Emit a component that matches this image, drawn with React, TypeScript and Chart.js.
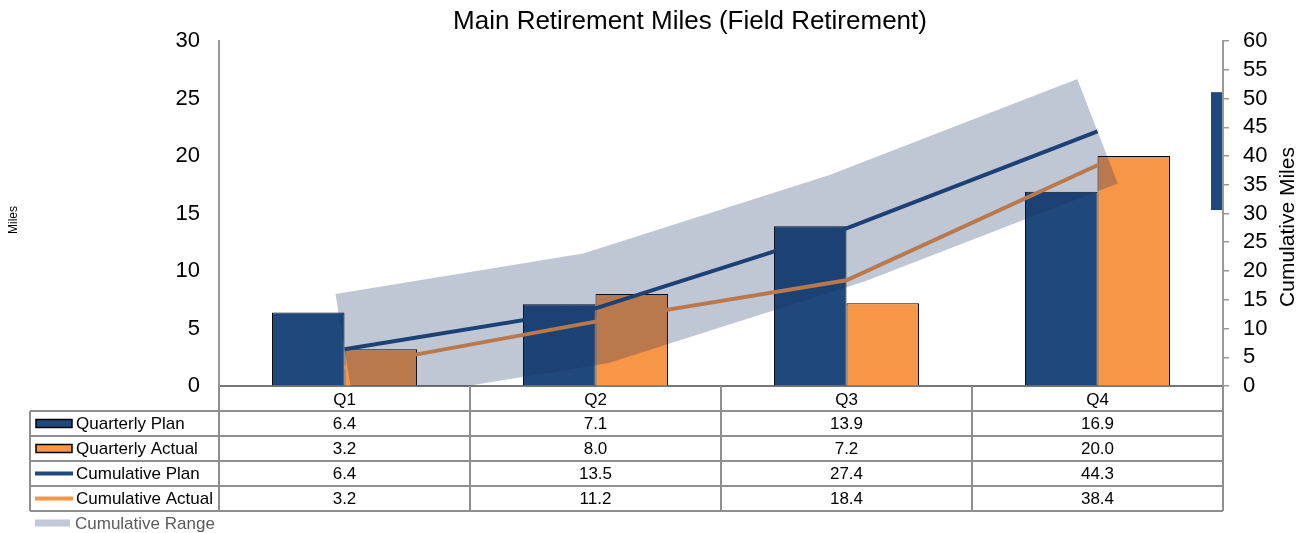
import React, { useEffect, useRef } from "react";
import { Chart, registerables } from "chart.js";

Chart.register(...registerables);

const categories = ["Q1", "Q2", "Q3", "Q4"];
const quarterlyPlan = [6.4, 7.1, 13.9, 16.9];
const quarterlyActual = [3.2, 8.0, 7.2, 20.0];
const cumulativePlan = [6.4, 13.5, 27.4, 44.3];
const cumulativeActual = [3.2, 11.2, 18.4, 38.4];
const cumulativeRange = [6.4, 13.5, 27.4, 44.3];
const rangeMarker = [30.6, 51.1];
const title = "Main Retirement Miles (Field Retirement)";
const leftAxisTitle = "Miles";
const rightAxisTitle = "Cumulative Miles";

const BLUE = "#1F497D";
const ORANGE = "#F79646";
const BAND = "rgba(20,45,95,0.27)";
const BAND_KEY = "#c1c8d7";
const FONT = "'Liberation Sans', Arial, sans-serif";
const GRID = "#8f8f8f";

const tableRows = [
  { label: "Quarterly Plan", values: quarterlyPlan, kind: "bar", color: BLUE },
  { label: "Quarterly Actual", values: quarterlyActual, kind: "bar", color: ORANGE },
  { label: "Cumulative Plan", values: cumulativePlan, kind: "line", color: BLUE },
  { label: "Cumulative Actual", values: cumulativeActual, kind: "line", color: ORANGE },
];

const tablePlugin = {
  id: "dataTable",
  afterDraw(chart: any) {
    const { ctx, chartArea } = chart;
    const xs = chart.scales.x;
    const y1 = chart.scales.y1;
    const rowH = 25;
    const tableLeft = 30;
    const headerTop = chartArea.bottom;
    const bodyTop = headerTop + rowH;
    const n = categories.length;
    const bounds: number[] = [];
    for (let i = 0; i <= n; i++) bounds.push(xs.getPixelForValue(i - 0.5));

    ctx.save();
    // marker rectangle by right axis
    ctx.fillStyle = BLUE;
    const mt = y1.getPixelForValue(rangeMarker[1]);
    const mb = y1.getPixelForValue(rangeMarker[0]);
    ctx.fillRect(chartArea.right - 12, mt, 11, mb - mt);

    // title
    ctx.fillStyle = "#000";
    ctx.font = `26px ${FONT}`;
    ctx.textAlign = "center";
    ctx.textBaseline = "middle";
    ctx.fillText(title, 690, 22);

    // axis titles
    ctx.save();
    ctx.translate(14, 220);
    ctx.rotate(-Math.PI / 2);
    ctx.font = `12px ${FONT}`;
    ctx.fillText(leftAxisTitle, 0, 0);
    ctx.restore();
    ctx.save();
    ctx.translate(1288, 227);
    ctx.rotate(-Math.PI / 2);
    ctx.font = `21px ${FONT}`;
    ctx.fillText(rightAxisTitle, 0, 0);
    ctx.restore();

    // table lines
    ctx.strokeStyle = GRID;
    ctx.lineWidth = 2;
    ctx.beginPath();
    for (let r = 0; r <= tableRows.length; r++) {
      const y = bodyTop + r * rowH;
      ctx.moveTo(tableLeft, y);
      ctx.lineTo(bounds[n], y);
    }
    ctx.moveTo(tableLeft, bodyTop);
    ctx.lineTo(tableLeft, bodyTop + tableRows.length * rowH);
    for (let i = 0; i <= n; i++) {
      ctx.moveTo(bounds[i], headerTop);
      ctx.lineTo(bounds[i], bodyTop + tableRows.length * rowH);
    }
    ctx.stroke();

    ctx.font = `17px ${FONT}`;
    ctx.textBaseline = "middle";
    tableRows.forEach((row, r) => {
      const cy = bodyTop + r * rowH + rowH / 2;
      if (row.kind === "bar") {
        ctx.fillStyle = row.color;
        ctx.fillRect(36, cy - 4, 36, 8);
        ctx.strokeStyle = "#000";
        ctx.lineWidth = 1.5;
        ctx.strokeRect(36, cy - 4, 36, 8);
      } else {
        ctx.strokeStyle = row.color;
        ctx.lineWidth = 4;
        ctx.beginPath();
        ctx.moveTo(35, cy);
        ctx.lineTo(73, cy);
        ctx.stroke();
      }
      ctx.fillStyle = "#000";
      ctx.textAlign = "left";
      ctx.fillText(row.label, 76, cy + 1);
      ctx.textAlign = "center";
      row.values.forEach((v, i) => {
        ctx.fillText(v.toFixed(1), (bounds[i] + bounds[i + 1]) / 2, cy + 1);
      });
    });

    // cumulative range legend
    const ly = bodyTop + tableRows.length * rowH + 12;
    ctx.strokeStyle = BAND_KEY;
    ctx.lineWidth = 7;
    ctx.beginPath();
    ctx.moveTo(35, ly);
    ctx.lineTo(70, ly);
    ctx.stroke();
    ctx.fillStyle = "#5a5a5a";
    ctx.textAlign = "left";
    ctx.fillText("Cumulative Range", 75, ly + 1);
    ctx.restore();
  },
};

export default function App() {
  const ref = useRef<HTMLCanvasElement>(null);
  useEffect(() => {
    document.body.style.margin = "0";
    const chart = new Chart(ref.current as HTMLCanvasElement, {
      type: "bar",
      data: {
        labels: categories,
        datasets: [
          {
            type: "line",
            label: "Cumulative Range",
            data: cumulativeRange,
            yAxisID: "y1",
            borderColor: BAND,
            backgroundColor: BAND,
            borderWidth: 112,
            borderCapStyle: "butt",
            borderJoinStyle: "miter",
            pointRadius: 0,
            fill: false,
            tension: 0,
            order: 0,
            clip: { left: 200, right: 200, top: 200, bottom: 0 },
          } as any,
          {
            type: "line",
            label: "Cumulative Plan",
            data: cumulativePlan,
            yAxisID: "y1",
            borderColor: BLUE,
            borderWidth: 4,
            pointRadius: 0,
            tension: 0,
            order: 1,
          },
          {
            type: "line",
            label: "Cumulative Actual",
            data: cumulativeActual,
            yAxisID: "y1",
            borderColor: ORANGE,
            borderWidth: 4,
            pointRadius: 0,
            tension: 0,
            order: 1,
          },
          {
            type: "bar",
            label: "Quarterly Plan",
            data: quarterlyPlan,
            yAxisID: "y",
            backgroundColor: BLUE,
            borderColor: "#000",
            borderWidth: 1,
            categoryPercentage: 0.578,
            barPercentage: 1,
            order: 2,
          },
          {
            type: "bar",
            label: "Quarterly Actual",
            data: quarterlyActual,
            yAxisID: "y",
            backgroundColor: ORANGE,
            borderColor: "#000",
            borderWidth: 1,
            categoryPercentage: 0.578,
            barPercentage: 1,
            order: 2,
          },
        ],
      },
      options: {
        responsive: false,
        animation: false,
        layout: { padding: { top: 41, bottom: 122, left: 0, right: 0 } },
        plugins: {
          legend: { display: false },
          tooltip: { enabled: false },
          title: { display: false },
        },
        scales: {
          x: {
            type: "category",
            offset: true,
            grid: { display: true, drawOnChartArea: false, drawTicks: false },
            border: { display: true, color: "#777", width: 2 },
            ticks: { color: "#000", font: { family: FONT, size: 17 }, padding: 4 },
            afterFit: (s: any) => {
              s.height = 25;
            },
          },
          y: {
            position: "left",
            min: 0,
            max: 30,
            ticks: { stepSize: 5, autoSkip: false, color: "#000", font: { family: FONT, size: 22 }, padding: 19 },
            grid: { display: true, drawOnChartArea: false, drawTicks: false },
            border: { display: true, color: "#999", width: 2 },
            afterFit: (s: any) => {
              s.width = 219;
            },
          },
          y1: {
            position: "right",
            min: 0,
            max: 60,
            ticks: { stepSize: 5, autoSkip: false, color: "#000", font: { family: FONT, size: 22 }, padding: 14 },
            grid: {
              display: true,
              drawOnChartArea: false,
              drawTicks: true,
              tickLength: 6,
              color: "#999",
              lineWidth: 1.5,
            },
            border: { display: true, color: "#999", width: 2 },
            afterFit: (s: any) => {
              s.width = 77;
            },
          },
        },
      } as any,
      plugins: [tablePlugin],
    });
    return () => chart.destroy();
  }, []);
  return (
    <div style={{ position: "absolute", left: 0, top: 0, width: 1300, height: 533 }}>
      <canvas ref={ref} width={1300} height={533} />
    </div>
  );
}
